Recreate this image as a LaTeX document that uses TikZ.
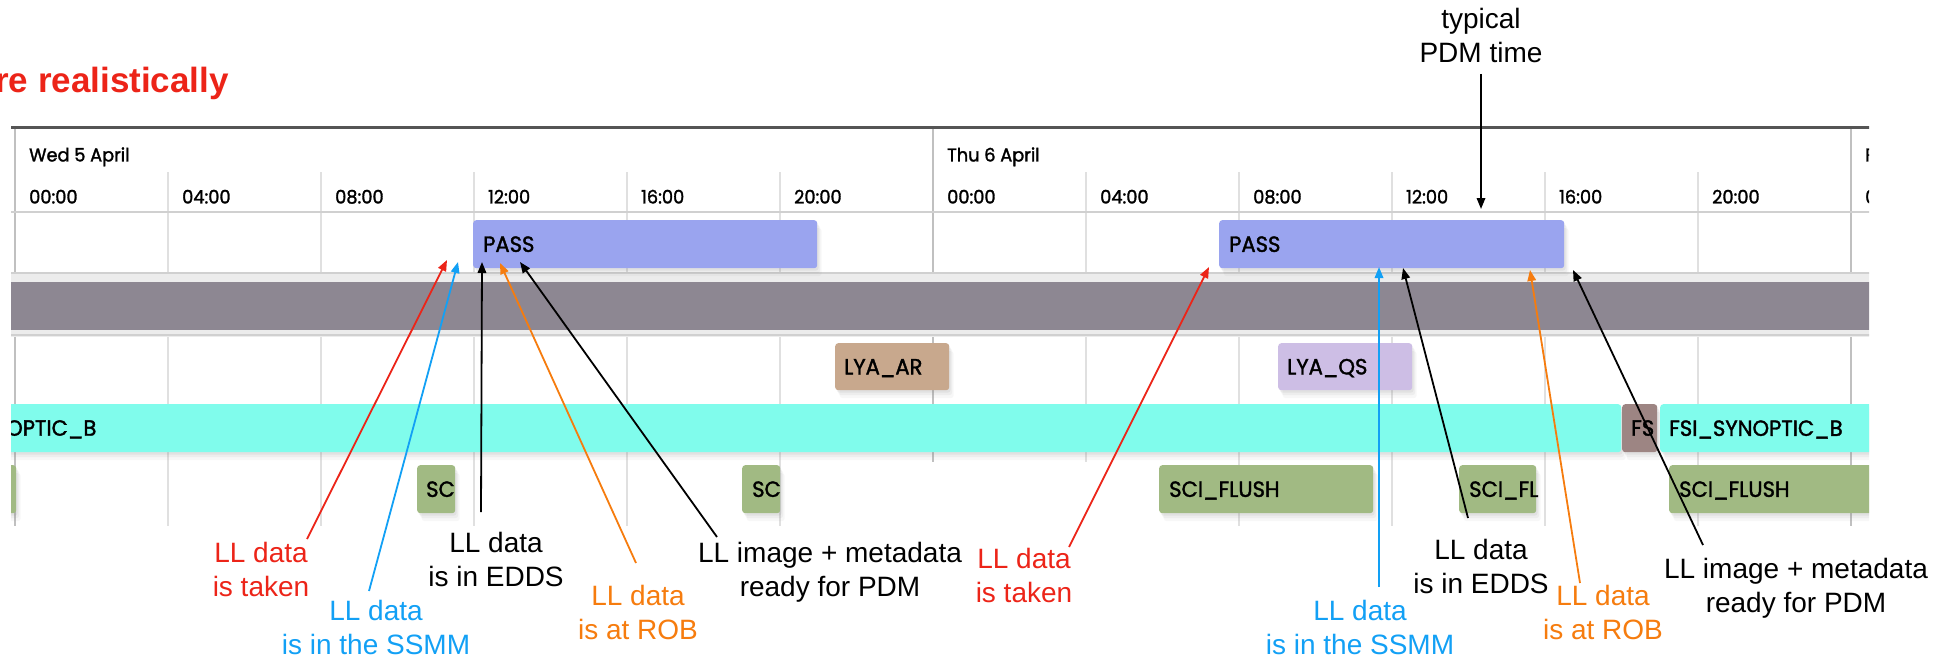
\documentclass[tikz,border=0pt]{standalone}
\usepackage{fontspec}
\setmainfont{Liberation Sans}
\newfontfamily\chartfont[FakeStretch=0.96,FakeBold=1.6]{Poppins}
\usetikzlibrary{arrows.meta,shadows}

\definecolor{hotred}{RGB}{236,36,24}
\definecolor{skyblue}{RGB}{18,160,245}
\definecolor{tangerine}{RGB}{246,124,14}
\definecolor{passblue}{RGB}{154,164,239}
\definecolor{bandgray}{RGB}{141,135,146}
\definecolor{lyaar}{RGB}{200,168,141}
\definecolor{lyaqs}{RGB}{205,190,229}
\definecolor{synoptic}{RGB}{128,252,236}
\definecolor{fsbrown}{RGB}{157,133,131}
\definecolor{flushgreen}{RGB}{161,186,131}
\definecolor{gridline}{RGB}{224,224,224}
\definecolor{dayline}{RGB}{192,192,192}
\definecolor{frameline}{RGB}{85,85,85}
\definecolor{rowline}{RGB}{208,208,208}
\definecolor{rowshade}{RGB}{236,236,236}

\begin{document}
\begin{tikzpicture}[x=1pt,y=-1pt,
  softshadow/.style={
    drop shadow={opacity=0.06,shadow xshift=4.5pt,shadow yshift=-8pt},
    drop shadow={opacity=0.08,shadow xshift=3pt,shadow yshift=-5pt},
    drop shadow={opacity=0.10,shadow xshift=1.5pt,shadow yshift=-2.5pt}},
  taskbox/.style={rectangle,rounded corners=3pt,inner sep=0pt,anchor=north west,softshadow},
  boxtext/.style={font=\chartfont\fontsize{22}{22}\selectfont,inner sep=0pt,anchor=west,
    text height=15.4pt,text depth=0pt},
  daytext/.style={font=\chartfont\fontsize{18.5}{18.5}\selectfont,inner sep=0pt,anchor=west,
    text height=12.9pt,text depth=0pt},
  note/.style={font=\fontsize{28}{34}\selectfont,align=center,inner sep=0pt},
  conn/.style={line width=1.8pt,-{Triangle[length=11pt,width=8.5pt]}},
]
\useasboundingbox (0,0) rectangle (1948,658);

% headline, running off the left edge
\node[anchor=base east,font=\bfseries\fontsize{35}{35}\selectfont,text=hotred,inner sep=0pt]
  (headline) at (229,93) {re realistically};

% ---------------- schedule chart ----------------
\begin{scope}
\clip (11,126) rectangle (1869,525);
\fill[white] (11,126) rectangle (1869,525);

% hour grid
\foreach \k in {1,2,3,4,5,7,8,9,10,11}
  \draw[gridline,line width=1.3pt] ({15+153*\k},172) -- ({15+153*\k},530);
\foreach \k in {0,6,12}
  \draw[dayline,line width=1.3pt] ({15+153*\k},128) -- ({15+153*\k},530);

% frame and header rule
\draw[frameline,line width=3pt] (0,128) -- (1880,128);
\draw[rowline,line width=1.5pt] (0,212) -- (1880,212);

% day headers
\node[daytext] (wed) at (29,155) {Wed 5 April};
\node[daytext] (thu) at (947,155) {Thu 6 April};
\node[daytext] (fri) at (1865,155) {F};

% hour labels
\foreach \k/\t in {0/00:00,1/04:00,2/08:00,3/12:00,4/16:00,5/20:00,
                   6/00:00,7/04:00,8/08:00,9/12:00,10/16:00,11/20:00}
  \node[daytext] (hr\k) at ({29+153*\k},197) {\t};
\node[daytext] (hr12) at (1865,197) {0};

% separator below the pass row
\fill[rowshade] (0,273) rectangle (1880,282);
\draw[rowline,line width=1.5pt] (0,273) -- (1880,273);

% grey band
\fill[bandgray] (0,282) rectangle (1880,330);
\fill[rowshade] (0,330) rectangle (1880,337);
\draw[rowline,line width=1.5pt] (0,335) -- (1880,335);

% pass row
\node[taskbox,fill=passblue,minimum width=344pt,minimum height=48pt] (pass1) at (473,220) {};
\node[boxtext] (pass1t) at ([xshift=10pt]pass1.west) {PASS};
\node[taskbox,fill=passblue,minimum width=345pt,minimum height=48pt] (pass2) at (1219,220) {};
\node[boxtext] (pass2t) at ([xshift=10pt]pass2.west) {PASS};

% Lyman-alpha row
\node[taskbox,fill=lyaar,minimum width=114pt,minimum height=47pt] (lyaar) at (835,343) {};
\node[boxtext] (lyaart) at ([xshift=9pt]lyaar.west) {LYA\_AR};
\node[taskbox,fill=lyaqs,minimum width=134pt,minimum height=47pt] (lyaqs) at (1278,343) {};
\node[boxtext] (lyaqst) at ([xshift=9pt]lyaqs.west) {LYA\_QS};

% synoptic row
\node[taskbox,fill=synoptic,minimum width=1621pt,minimum height=48pt] (syn1) at (0,404) {};
\node[boxtext] (syn1t) at (6,428) {OPTIC\_B};
\node[taskbox,fill=fsbrown,minimum width=35pt,minimum height=48pt] (fs) at (1622,404) {};
\node[boxtext] (fst) at (1631,428) {FS};
\node[taskbox,fill=synoptic,minimum width=230pt,minimum height=48pt] (syn2) at (1660,404) {};
\node[boxtext] (syn2t) at ([xshift=9pt]syn2.west) {FSI\_SYNOPTIC\_B};

% flush row
\node[taskbox,fill=flushgreen,minimum width=16pt,minimum height=48pt] (fl0) at (0,465) {};
\node[taskbox,fill=flushgreen,minimum width=38pt,minimum height=48pt] (sc1) at (417,465) {};
\node[boxtext] (sc1t) at ([xshift=9pt]sc1.west) {SC};
\node[taskbox,fill=flushgreen,minimum width=38pt,minimum height=48pt] (sc2) at (742,465) {};
\node[boxtext] (sc2t) at ([xshift=10pt]sc2.west) {SC};
\fill[white] (796,462) rectangle (1135,530);
\node[taskbox,fill=flushgreen,minimum width=214pt,minimum height=48pt] (fl1) at (1159,465) {};
\node[boxtext] (fl1t) at ([xshift=10pt]fl1.west) {SCI\_FLUSH};
\node[taskbox,fill=flushgreen,minimum width=77pt,minimum height=48pt] (fl2) at (1459,465) {};
\node[boxtext] (fl2t) at ([xshift=10pt]fl2.west) {SCI\_FL};
\node[taskbox,fill=flushgreen,minimum width=230pt,minimum height=48pt] (fl3) at (1669,465) {};
\node[boxtext] (fl3t) at ([xshift=10pt]fl3.west) {SCI\_FLUSH};
\end{scope}

% ---------------- annotations ----------------
\node[note,text=hotred]    (ta) at (261,569) {LL data\\is taken};
\node[note,text=skyblue]   (ssa) at (376,627) {LL data\\is in the SSMM};
\node[note]                (ea) at (496,559) {LL data\\is in EDDS};
\node[note,text=tangerine] (ra) at (638,612) {LL data\\is at ROB};
\node[note]                (pa) at (830,572) {LL image + metadata\\ready for PDM};

\node[note,text=hotred]    (tb) at (1024,575) {LL data\\is taken};
\node[note,text=skyblue]   (ssb) at (1360,627) {LL data\\is in the SSMM};
\node[note]                (eb) at (1481,566) {LL data\\is in EDDS};
\node[note,text=tangerine] (rb) at (1603,612) {LL data\\is at ROB};
\node[note]                (pb) at (1796,588) {LL image + metadata\\ready for PDM};

\node[note]                (pdm) at (1481,35) {typical\\PDM time};

% connector end points
\coordinate (taS) at (307,539);  \coordinate (taE) at (447,260);
\coordinate (ssaS) at (369,591); \coordinate (ssaE) at (458,262);
\coordinate (eaS) at (481,512);  \coordinate (eaE) at (482,262);
\coordinate (raS) at (636,563);  \coordinate (raE) at (500,263);
\coordinate (paS) at (717,537);  \coordinate (paE) at (520,262);

\coordinate (tbS) at (1069,547); \coordinate (tbE) at (1209,267);
\coordinate (ssbS) at (1379,587);\coordinate (ssbE) at (1379,267);
\coordinate (ebS) at (1468,518); \coordinate (ebE) at (1403,268);
\coordinate (rbS) at (1580,583); \coordinate (rbE) at (1530,270);
\coordinate (pbS) at (1703,545); \coordinate (pbE) at (1573,270);

\coordinate (pdmS) at (1481,74); \coordinate (pdmE) at (1481,209);

\draw[conn,hotred]    (taS) -- (taE);
\draw[conn,skyblue]   (ssaS) -- (ssaE);
\draw[conn,black]     (eaS) -- (eaE);
\draw[conn,tangerine] (raS) -- (raE);
\draw[conn,black]     (paS) -- (paE);

\draw[conn,hotred]    (tbS) -- (tbE);
\draw[conn,skyblue]   (ssbS) -- (ssbE);
\draw[conn,black]     (ebS) -- (ebE);
\draw[conn,tangerine] (rbS) -- (rbE);
\draw[conn,black]     (pbS) -- (pbE);

\draw[conn,black]     (pdmS) -- (pdmE);
\end{tikzpicture}
\end{document}
